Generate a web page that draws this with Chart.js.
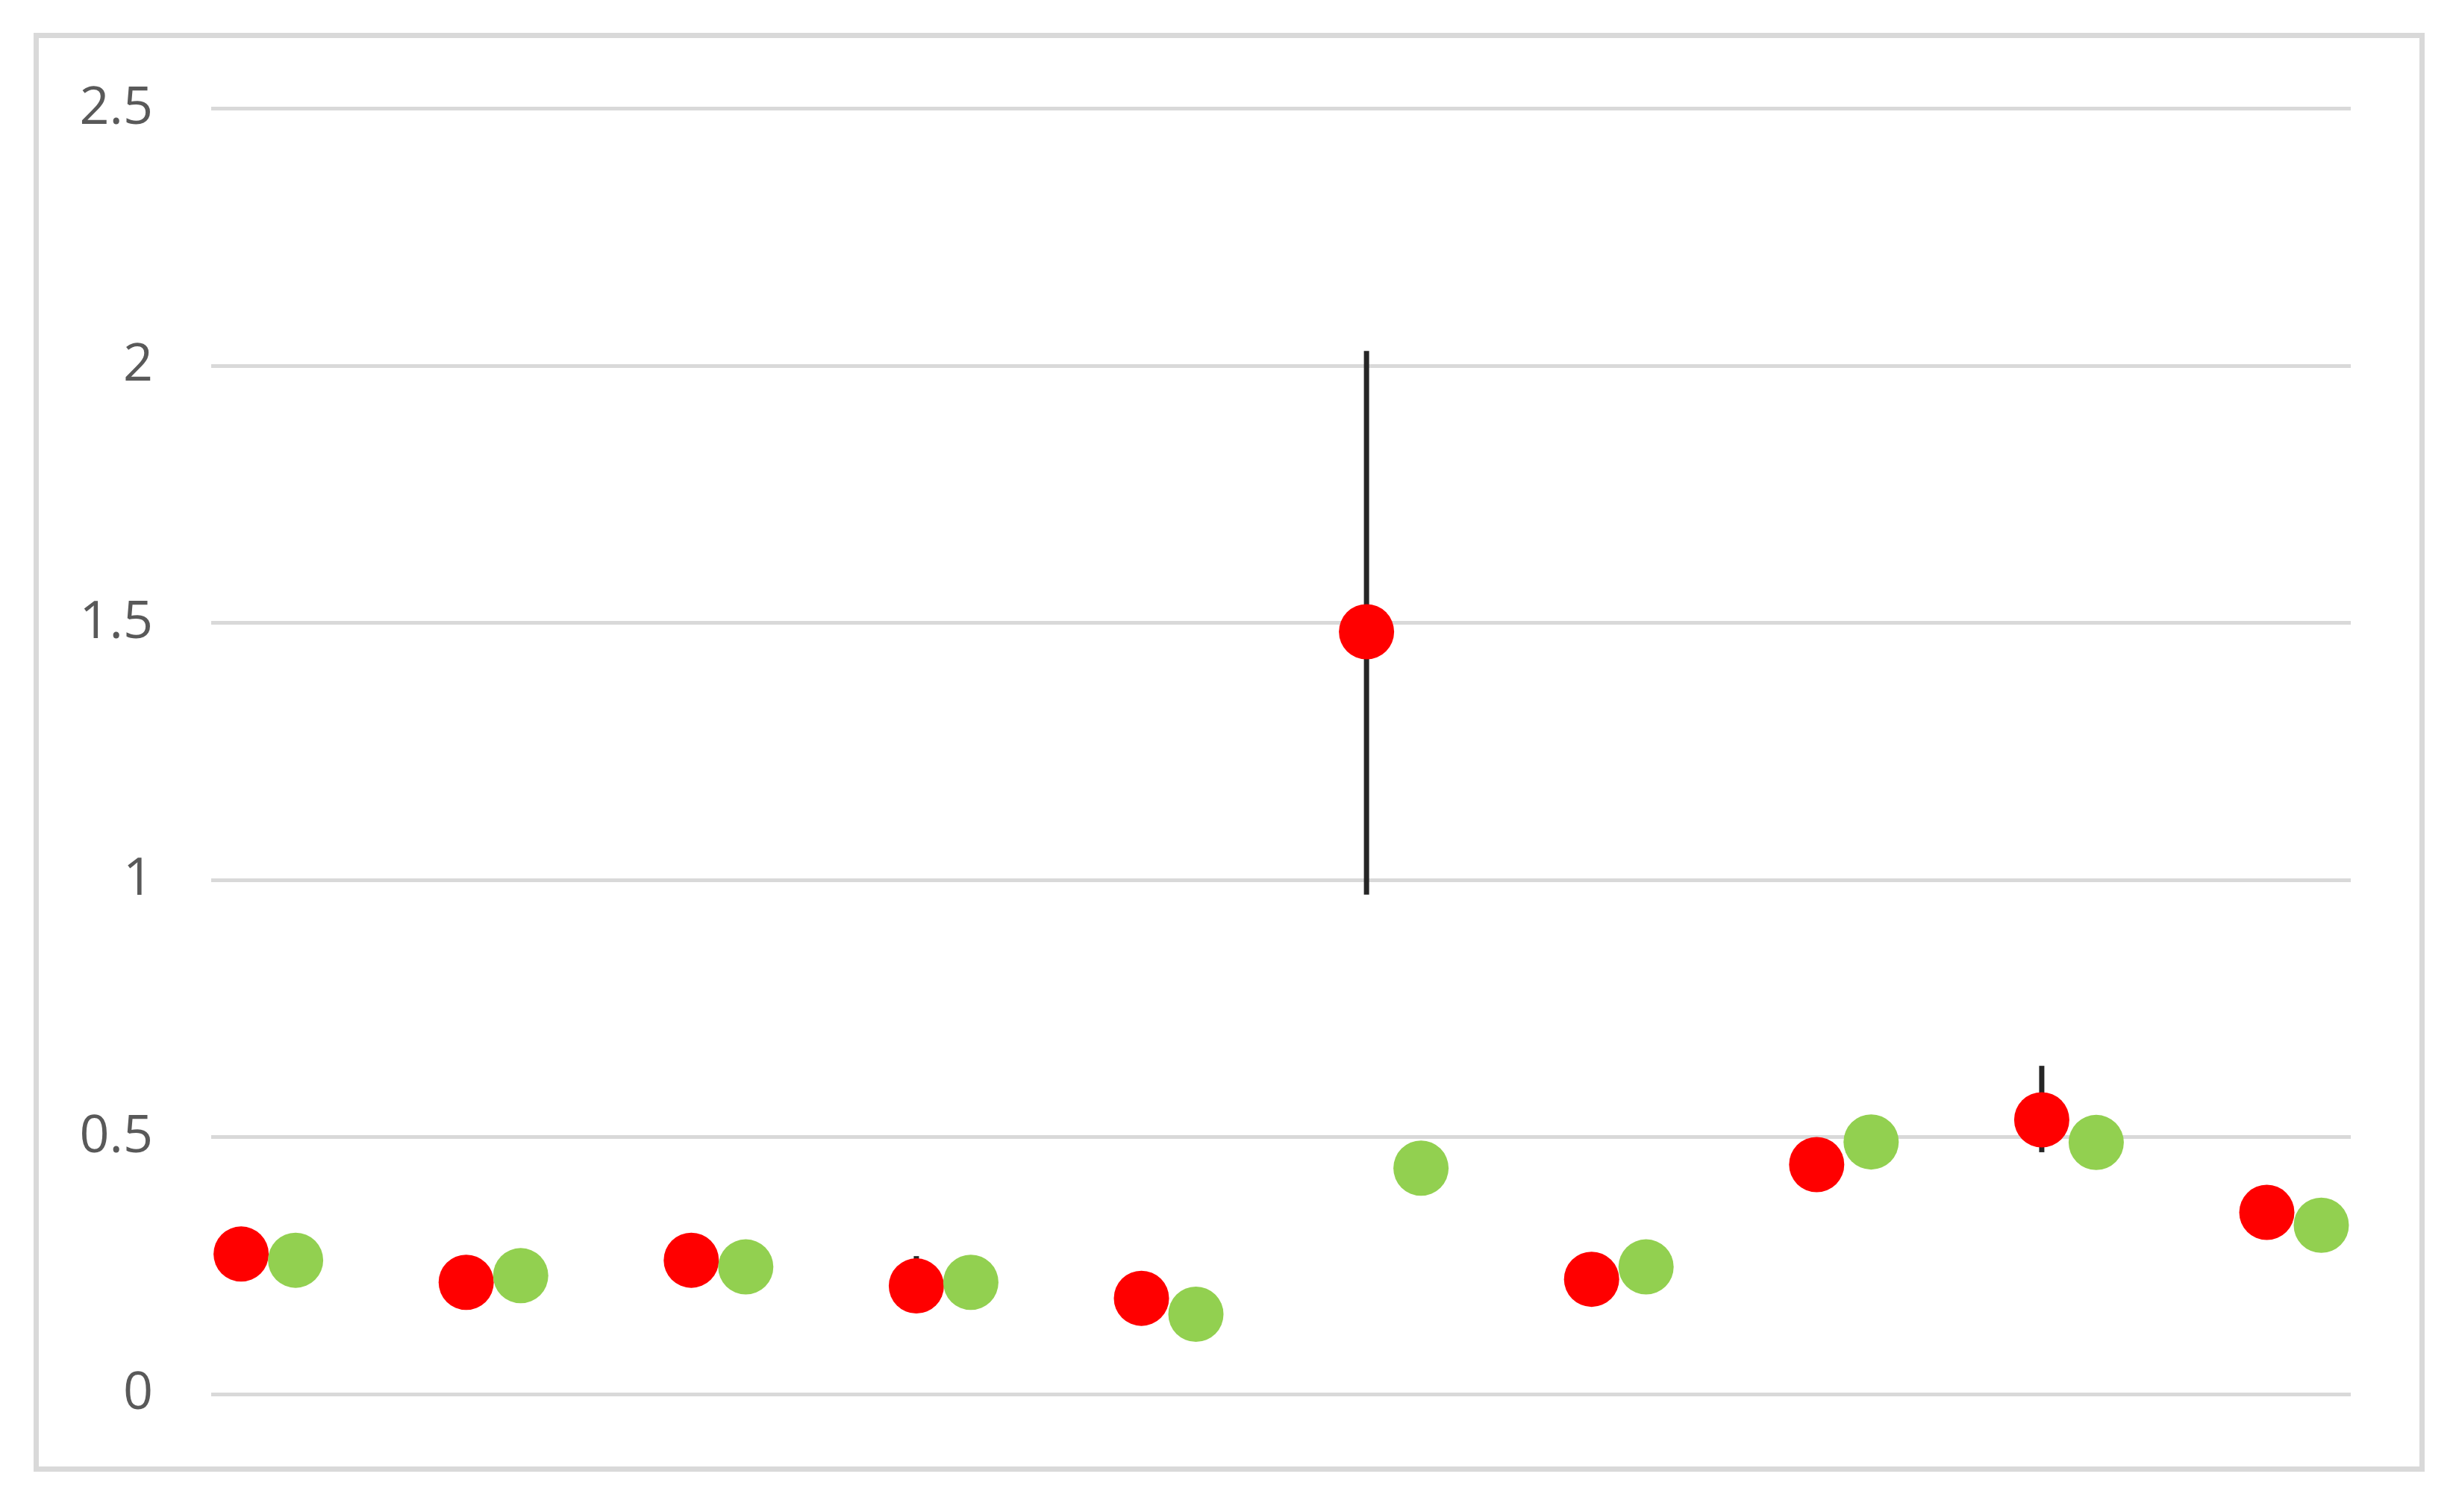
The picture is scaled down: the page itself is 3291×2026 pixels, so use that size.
<!DOCTYPE html>
<html>
<head>
<meta charset="utf-8">
<script src="https://cdn.jsdelivr.net/npm/chart.js@4/dist/chart.umd.min.js"></script>
<style>
html,body{margin:0;padding:0;background:#fff;}
#wrap{position:relative;width:3291px;height:2026px;}
</style>
</head>
<body>
<div id="wrap"><canvas id="c" width="3291" height="2026"></canvas></div>
<script>
// ---- data ----
const categories = ['1','2','3','4','5','6','7','8','9','10'];
const redValues   = [0.273, 0.218, 0.261, 0.211, 0.187, 1.483, 0.224, 0.447, 0.534, 0.354];
const greenValues = [0.261, 0.231, 0.248, 0.218, 0.156, 0.440, 0.248, 0.491, 0.490, 0.329];
const redErrPlus  = [0.051, 0, 0, 0.058, 0, 0.546, 0, 0, 0.105, 0];
const redErrMinus = [0.030, 0, 0, 0.040, 0, 0.511, 0, 0, 0.063, 0];
const yTickValues = [0, 0.5, 1, 1.5, 2, 2.5];

// ---- styling / layout constants ----
const GREEN_OFFSET = 0.242;
const RED = '#ff0000';
const GREEN = '#92d050';

const redPoints = categories.map((c, i) => ({x: i + 1, y: redValues[i]}));
const greenPoints = categories.map((c, i) => ({x: i + 1 + GREEN_OFFSET, y: greenValues[i]}));

const frame = {
  id: 'frame',
  beforeDraw(chart) {
    const ctx = chart.ctx;
    ctx.save();
    ctx.fillStyle = '#ffffff';
    ctx.fillRect(0, 0, chart.width, chart.height);
    ctx.strokeStyle = '#d9d9d9';
    ctx.lineWidth = 7;
    ctx.strokeRect(48.5, 47.5, 3197, 1921);
    ctx.restore();
  }
};

const errorBars = {
  id: 'errorBars',
  beforeDatasetsDraw(chart) {
    const ctx = chart.ctx;
    const ys = chart.scales.y;
    const meta = chart.getDatasetMeta(0);
    ctx.save();
    ctx.strokeStyle = '#262626';
    ctx.lineWidth = 7;
    ctx.lineCap = 'butt';
    meta.data.forEach((pt, i) => {
      const p = redErrPlus[i], m = redErrMinus[i];
      if (!p && !m) return;
      const v = redValues[i];
      ctx.beginPath();
      ctx.moveTo(pt.x, ys.getPixelForValue(v + p));
      ctx.lineTo(pt.x, ys.getPixelForValue(v - m));
      ctx.stroke();
    });
    ctx.restore();
  }
};

new Chart(document.getElementById('c'), {
  type: 'scatter',
  data: {
    datasets: [
      {label: 'A', data: redPoints, backgroundColor: RED, borderWidth: 0, pointRadius: 37, pointHoverRadius: 37, order: 2},
      {label: 'B', data: greenPoints, backgroundColor: GREEN, borderWidth: 0, pointRadius: 37, pointHoverRadius: 37, order: 1}
    ]
  },
  options: {
    responsive: false,
    animation: false,
    events: [],
    layout: {padding: {left: 0, right: 141, top: 145.7, bottom: 157.5}},
    plugins: {legend: {display: false}, tooltip: {enabled: false}},
    scales: {
      x: {type: 'linear', display: false, min: 0.867, max: 10.373},
      y: {
        type: 'linear', min: 0, max: 2.5,
        afterBuildTicks(scale) { scale.ticks = yTickValues.map(v => ({value: v})); },
        afterFit(scale) { scale.width = 283; },
        border: {display: false},
        grid: {color: '#d9d9d9', lineWidth: 5, drawTicks: false},
        ticks: {
          padding: 78,
          color: '#595959',
          font: {family: '"Open Sans", "DejaVu Sans", sans-serif', size: 70},
          callback: v => String(v)
        }
      }
    }
  },
  plugins: [frame, errorBars]
});
</script>
</body>
</html>
